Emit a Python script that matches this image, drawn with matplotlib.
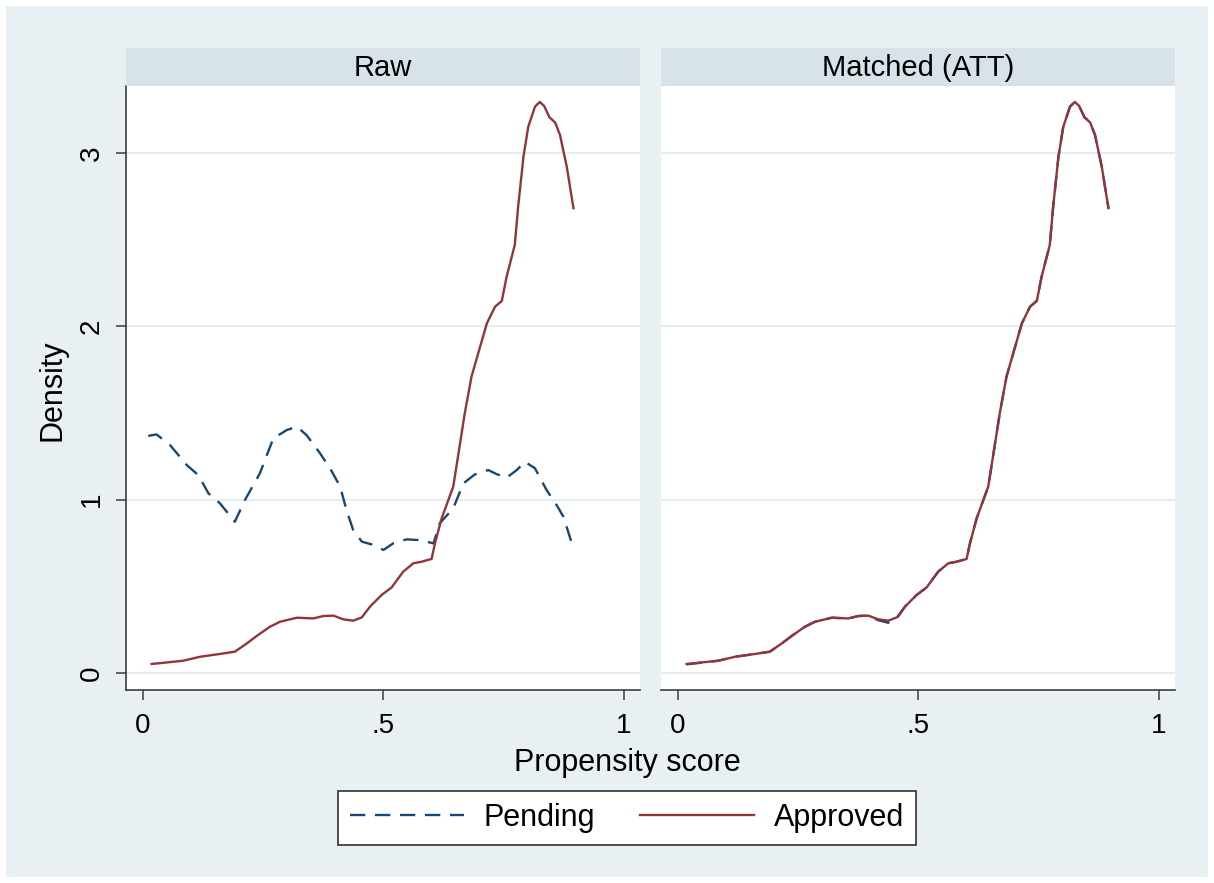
import numpy as np
import matplotlib
matplotlib.use('Agg')
import matplotlib.pyplot as plt
from matplotlib.patches import Rectangle

plt.rcParams['font.family'] = ['Liberation Sans', 'DejaVu Sans']
plt.rcParams['lines.scale_dashes'] = False

# kernel density, raw sample
pend_x = [0.011, 0.028, 0.056, 0.091, 0.115, 0.136, 0.160, 0.191, 0.212, 0.243,
          0.271, 0.299, 0.320, 0.340, 0.368, 0.389, 0.410, 0.423, 0.437, 0.455,
          0.479, 0.500, 0.520, 0.548, 0.576, 0.604, 0.617, 0.645, 0.666, 0.690,
          0.718, 0.735, 0.756, 0.777, 0.794, 0.815, 0.839, 0.860, 0.874, 0.891]
pend_y = [1.368, 1.377, 1.316, 1.200, 1.142, 1.037, 0.979, 0.873, 0.998, 1.152,
          1.354, 1.402, 1.421, 1.373, 1.268, 1.181, 1.075, 0.941, 0.825, 0.758,
          0.739, 0.710, 0.748, 0.771, 0.767, 0.748, 0.864, 0.950, 1.094, 1.146,
          1.171, 1.148, 1.127, 1.171, 1.219, 1.181, 1.056, 0.969, 0.902, 0.754]

appr_x = [0.018, 0.084, 0.119, 0.160, 0.191, 0.216, 0.236, 0.264, 0.285, 0.320,
          0.354, 0.375, 0.396, 0.416, 0.437, 0.455, 0.472, 0.496, 0.517, 0.541,
          0.562, 0.579, 0.600, 0.607, 0.621, 0.645, 0.656, 0.669, 0.683, 0.697,
          0.715, 0.732, 0.746, 0.756, 0.773, 0.780, 0.791, 0.801, 0.815, 0.825,
          0.834, 0.845, 0.857, 0.867, 0.881, 0.895]
appr_y = [0.052, 0.071, 0.094, 0.110, 0.123, 0.171, 0.213, 0.267, 0.296, 0.319,
          0.315, 0.329, 0.331, 0.310, 0.302, 0.321, 0.383, 0.450, 0.494, 0.585,
          0.633, 0.642, 0.658, 0.748, 0.893, 1.075, 1.268, 1.499, 1.710, 1.845,
          2.018, 2.114, 2.147, 2.287, 2.470, 2.691, 2.979, 3.152, 3.268, 3.295,
          3.272, 3.207, 3.176, 3.104, 2.922, 2.682]

# matched sample: pending re-weighted, almost on top of approved
match_pend_y = [0.050, 0.071, 0.094, 0.110, 0.123, 0.171, 0.213, 0.267, 0.296, 0.319,
                0.315, 0.329, 0.331, 0.305, 0.290, 0.315, 0.383, 0.450, 0.494, 0.585,
                0.633, 0.642, 0.658, 0.748, 0.893, 1.075, 1.268, 1.499, 1.710, 1.845,
                2.018, 2.114, 2.147, 2.287, 2.470, 2.691, 2.979, 3.152, 3.268, 3.295,
                3.272, 3.207, 3.176, 3.104, 2.922, 2.682]

panels = ['Raw', 'Matched (ATT)']
xticks = [0, 0.5, 1]
xticklabels = ['0', '.5', '1']
yticks = [0, 1, 2, 3]

c_pend = '#1A476F'
c_appr = '#90353B'
c_bg = '#E8F0F3'
c_strip = '#D8E3E9'
c_grid = '#E4EEF1'
c_axis = '#3C3C3C'

W, H = 1214, 883
fig = plt.figure(figsize=(W / 100, H / 100), dpi=100, facecolor='white')
fig.patches.append(Rectangle((6 / W, 6 / H), 1202 / W, 871 / H, transform=fig.transFigure,
                             facecolor=c_bg, edgecolor='none', zorder=-10))


def px(x0, y0, x1, y1):
    return [x0 / W, 1 - y1 / H, (x1 - x0) / W, (y1 - y0) / H]


lefts = [126, 661]
axes = []
for i, title in enumerate(panels):
    x0 = lefts[i]
    ax = fig.add_axes(px(x0, 86, x0 + 514, 690))
    ax.set_facecolor('white')
    sax = fig.add_axes(px(x0, 48, x0 + 514, 86))
    sax.set_facecolor(c_strip)
    sax.set_xticks([]); sax.set_yticks([])
    for s in sax.spines.values():
        s.set_visible(False)
    sax.text(0.5, 0.47, title, ha='center', va='center', fontsize=21, transform=sax.transAxes)

    ax.set_xlim(-0.0353, 1.0333)
    ax.set_ylim(-0.098, 3.387)
    for yv in yticks:
        ax.axhline(yv, color=c_grid, lw=1.5, zorder=0)
    ax.set_xticks(xticks)
    ax.set_xticklabels(xticklabels)
    ax.tick_params(axis='x', length=7.5, width=1.1, color=c_axis, labelsize=20, pad=9)
    for side in ['top', 'right']:
        ax.spines[side].set_visible(False)
    ax.spines['bottom'].set_color(c_axis)
    ax.spines['bottom'].set_linewidth(1.2)
    if i == 0:
        ax.set_yticks(yticks)
        ax.set_yticklabels([str(v) for v in yticks], rotation=90, va='center')
        ax.tick_params(axis='y', length=7.5, width=1.1, color=c_axis, labelsize=20, pad=8)
        ax.spines['left'].set_color(c_axis)
        ax.spines['left'].set_linewidth(1.2)
    else:
        ax.set_yticks([])
        ax.spines['left'].set_visible(False)
    axes.append(ax)

dash = (0, (11, 7))
axes[0].plot(pend_x, pend_y, color=c_pend, lw=1.7, linestyle=dash, label='Pending')
axes[0].plot(appr_x, appr_y, color=c_appr, lw=1.7, label='Approved')
axes[1].plot(appr_x, match_pend_y, color=c_pend, lw=1.7, linestyle=dash)
axes[1].plot(appr_x, appr_y, color=c_appr, lw=1.7)

fig.text(52 / W, 1 - 390 / H, 'Density', rotation=90, ha='center', va='center', fontsize=22)
fig.text(627 / W, 1 - 763 / H, 'Propensity score', ha='center', va='center', fontsize=22)

handles, labels = axes[0].get_legend_handles_labels()
leg = fig.legend(handles, labels, loc='center', bbox_to_anchor=(627 / W, 1 - 818 / H),
                 ncol=2, fontsize=22, frameon=True, fancybox=False, handlelength=3.73,
                 handletextpad=0.65, columnspacing=1.47, borderpad=0.4)
leg.get_frame().set_edgecolor('#303030')
leg.get_frame().set_linewidth(1.2)
leg.get_frame().set_facecolor('white')
leg.get_frame().set_alpha(1)

fig.savefig('out.png', dpi=100, facecolor='white')
